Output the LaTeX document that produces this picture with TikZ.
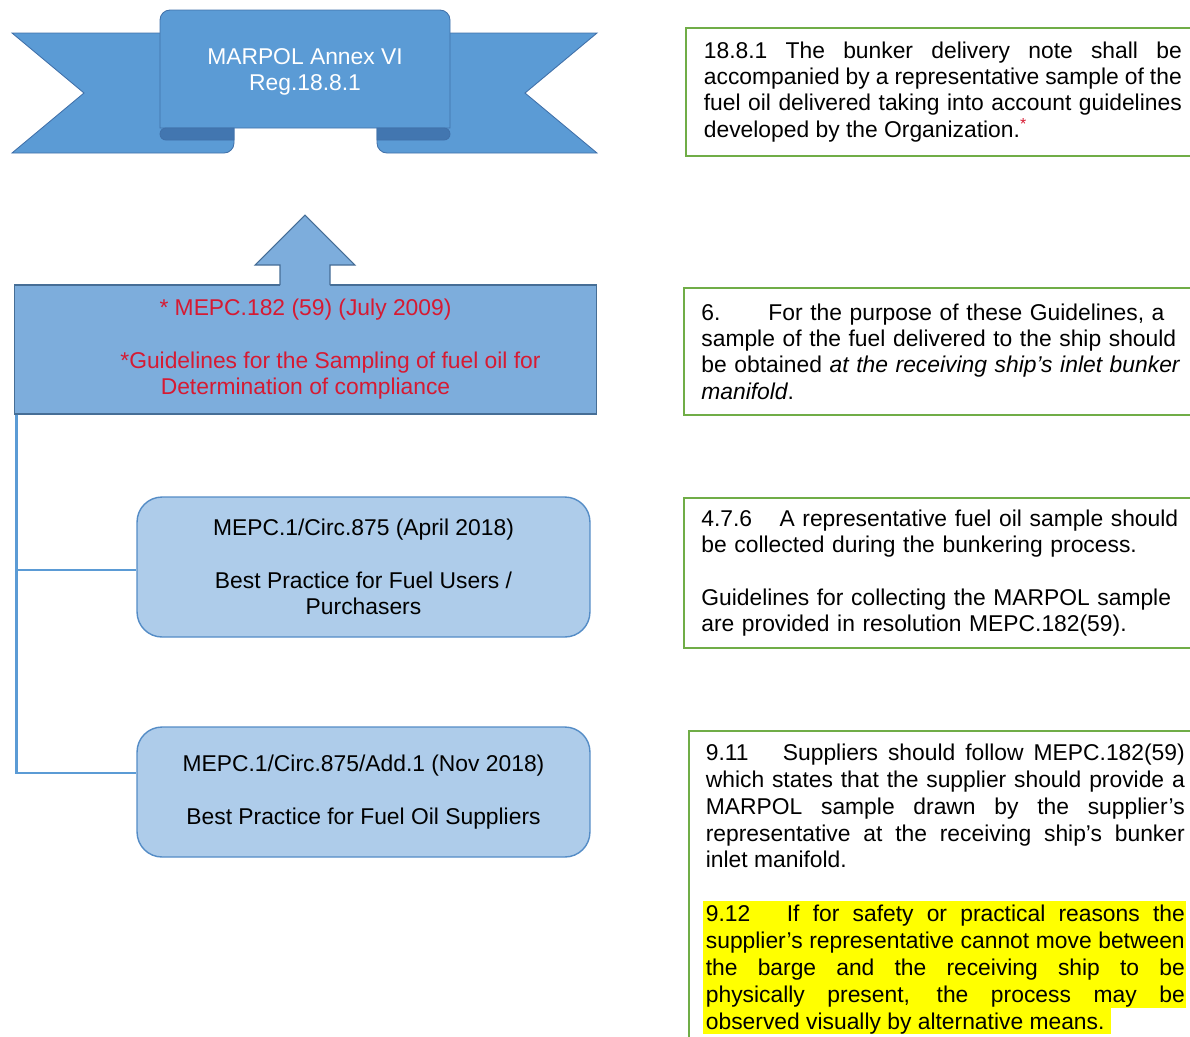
\documentclass[tikz,border=0pt]{standalone}
\usepackage{fontspec}
\setmainfont{Liberation Sans}
\usepackage{tikz}
\usetikzlibrary{positioning}

\definecolor{ribbonblue}{RGB}{91,155,213}
\definecolor{ribbondark}{RGB}{66,118,176}
\definecolor{ribbonline}{RGB}{65,113,170}
\definecolor{guideblue}{RGB}{125,173,220}
\definecolor{guideline}{RGB}{70,110,150}
\definecolor{circblue}{RGB}{174,204,234}
\definecolor{circline}{RGB}{84,140,198}
\definecolor{textframe}{RGB}{112,173,71}
\definecolor{mepcred}{RGB}{214,26,50}
\definecolor{hlyellow}{RGB}{255,255,0}

\begin{document}
\begin{tikzpicture}[x=0.02cm,y=-0.02cm,
        font=\fontsize{13}{15}\selectfont,
        ribbon/.style={fill=ribbonblue,draw=ribbonline,line width=0.5pt},
        fold/.style={fill=ribbondark,draw=ribbonline,line width=0.5pt},
        circbox/.style={draw=circline,fill=circblue,rounded corners=0.5cm,line width=0.8pt,
            minimum width=9.06cm,align=center},
        rulebox/.style={draw=textframe,line width=1pt,anchor=north west,inner xsep=0.35cm},
        link/.style={draw=ribbonblue,line width=1.2pt}]
        \useasboundingbox (0,0) rectangle (1190,1036);

        % ribbon banner
        \draw[ribbon] (12,33) -- (234,33) -- (234,143) arc[start angle=0,end angle=90,radius=10]
            -- (12,153) -- (84,93) -- cycle;
        \draw[ribbon] (597,33) -- (377,33) -- (377,143) arc[start angle=180,end angle=90,radius=10]
            -- (597,153) -- (525,93) -- cycle;
        \draw[ribbon] (160,128) -- (160,20) arc[start angle=180,end angle=270,radius=10]
            -- (440,10) arc[start angle=270,end angle=360,radius=10] -- (450,128) -- cycle;
        \draw[fold] (234,128) -- (166,128) arc[start angle=270,end angle=90,radius=6] -- (234,140) -- cycle;
        \draw[fold] (377,128) -- (444,128) arc[start angle=-90,end angle=90,radius=6] -- (377,140) -- cycle;
        \node[text=white,align=center] (marpol) at (305,72) {MARPOL Annex VI\\Reg.18.8.1};

        % guidelines box with arrow
        \node[draw=guideline,fill=guideblue,line width=0.6pt,minimum width=11.66cm,minimum height=2.58cm,
            text=mepcred,align=center] (mepc182) at (305.5,349.5)
            {* MEPC.182 (59) (July 2009)\\[15pt]\hspace*{1cm}*Guidelines for the Sampling of fuel oil for\\Determination of compliance};
        \fill[guideblue] (280,286) -- (280,265) -- (255,265) -- (305,215) -- (355,265) -- (330,265) -- (330,286) -- cycle;
        \draw[guideline,line width=0.6pt] (280,285) -- (280,265) -- (255,265) -- (305,215) -- (355,265) -- (330,265) -- (330,285);

        % circulars
        \node[circbox,minimum height=2.8cm] (circ875) at (363.5,567)
            {MEPC.1/Circ.875 (April 2018)\\[15pt]Best Practice for Fuel Users /\\Purchasers};
        \node[circbox,minimum height=2.6cm] (circadd) at (363.5,792)
            {MEPC.1/Circ.875/Add.1 (Nov 2018)\\[15pt]Best Practice for Fuel Oil Suppliers};
        \draw[link] ([xshift=0.06cm]mepc182.south west) |- ([yshift=-0.06cm]circ875.west);
        \draw[link] ([xshift=0.06cm]mepc182.south west) |- ([yshift=0.38cm]circadd.west);

        % quoted texts
        \node[rulebox,inner xsep=0.36cm,text width=9.56cm,minimum height=2.56cm,align=justify] (reg1881) at (685,27)
            {18.8.1 The bunker delivery note shall be\linebreak accompanied by a representative sample of the\linebreak
            fuel oil delivered taking into account guidelines\linebreak developed by the Organization.\textsuperscript{\textcolor{mepcred}{*}}};
        \node[rulebox,text width=9.6cm,minimum height=2.54cm,align=left] (para6) at (683,287)
            {6.\hspace{2.1em}For the purpose of these Guidelines, a\\sample of the fuel delivered to the ship should\\
            be obtained \textit{at the receiving ship's inlet bunker}\\\textit{manifold}.};
        \node[rulebox,text width=9.6cm,minimum height=3cm,align=left] (para476) at (683,497)
            {4.7.6\hspace{1.2em}A representative fuel oil sample should\\be collected during the bunkering process.\\[15pt]
            Guidelines for collecting the MARPOL sample\\are provided in resolution MEPC.182(59).};
        \fill[hlyellow] (703,901) rectangle (1186,1008);
        \fill[hlyellow] (703,1008) rectangle (1111,1034);
        \node[rulebox,inner xsep=0.34cm,inner ysep=0.26cm,text width=9.58cm,align=justify,
            font=\fontsize{13}{15.3}\selectfont] (para911) at (688,730)
            {9.11\hspace{1.5em}Suppliers should follow MEPC.182(59)\linebreak which states that the supplier should provide a\linebreak
            MARPOL sample drawn by the supplier's\linebreak representative at the receiving ship's bunker\linebreak inlet manifold.\\[15.3pt]
            9.12\hspace{1.6em}If for safety or practical reasons the\linebreak supplier's representative cannot move between\linebreak
            the barge and the receiving ship to be\linebreak physically present, the process may be\linebreak
            observed visually by alternative means.\\[0.3cm]\mbox{}};
\end{tikzpicture}
\end{document}
